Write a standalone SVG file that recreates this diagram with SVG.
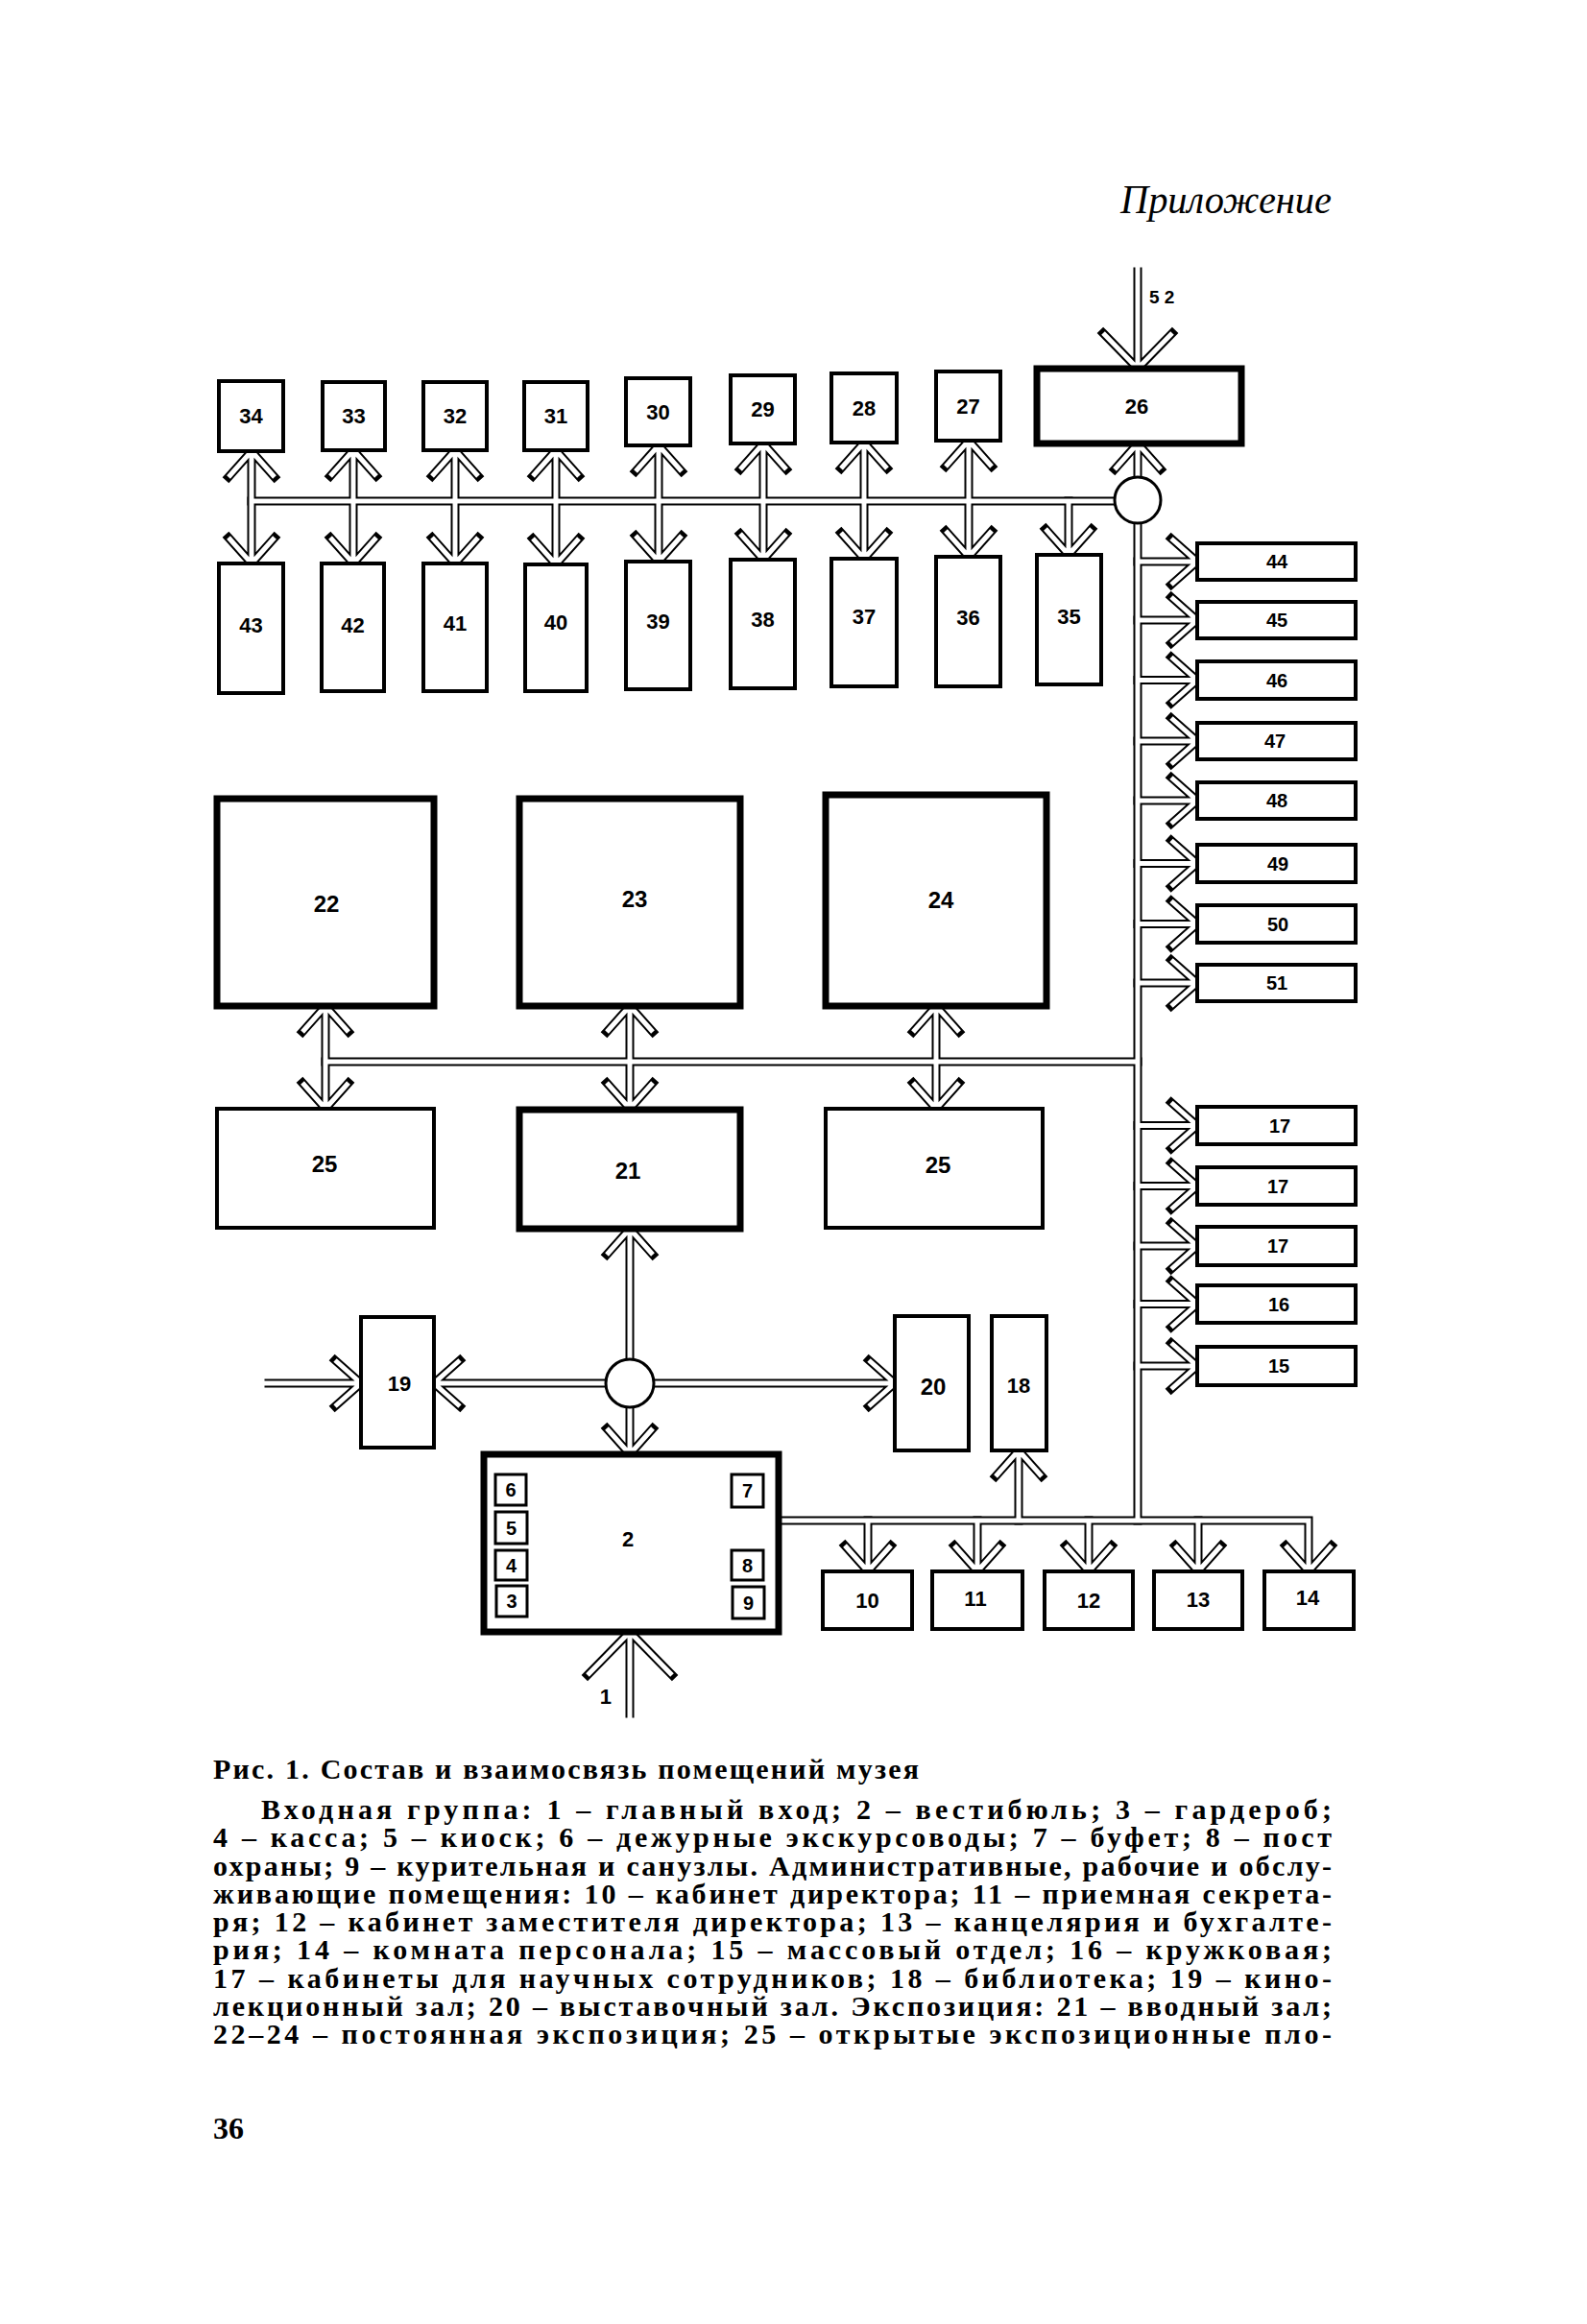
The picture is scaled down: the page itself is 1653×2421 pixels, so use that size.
<svg xmlns="http://www.w3.org/2000/svg" xmlns:xlink="http://www.w3.org/1999/xlink" width="1653" height="2421" viewBox="0 0 1653 2421">
<style>
.box{fill:#fff;stroke:#000;stroke-width:4}
.thick{stroke-width:7}
.small{stroke-width:3}
.hub{fill:#fff;stroke:#000;stroke-width:3}
.lbl{font-family:"Liberation Sans",Arial,sans-serif;font-weight:bold;font-size:22px;text-anchor:middle;dominant-baseline:central;fill:#000}
.big{font-size:24px}
.sm{font-size:20px}
.txt{font-family:"Liberation Serif","Times New Roman",serif;font-weight:bold;font-size:30px;fill:#000}
.head{font-family:"Liberation Serif","Times New Roman",serif;font-style:italic;font-size:43px;fill:#000}
.open{fill:none;stroke:#fff;stroke-width:5}
</style>
<defs>
<g id="net" fill="none">
<path d="M262 470V587M238 497L262 470L286 497M238 560L262 587L286 560"/>
<path d="M368 469V587M344 496L368 469L392 496M344 560L368 587L392 560"/>
<path d="M474 469V587M450 496L474 469L498 496M450 560L474 587L498 560"/>
<path d="M579 469V588M555 496L579 469L603 496M555 561L579 588L603 561"/>
<path d="M686 464V585M662 491L686 464L710 491M662 558L686 585L710 558"/>
<path d="M795 462V583M771 489L795 462L819 489M771 556L795 583L819 556"/>
<path d="M900 461V582M876 488L900 461L924 488M876 555L900 582L924 555"/>
<path d="M1009 459V580M985 486L1009 459L1033 486M985 553L1009 580L1033 553"/>
<path d="M1113 522V578M1089 551L1113 578L1137 551"/>
<path d="M262 522H1163"/>
<path d="M1185 497V462M1161 489L1185 462L1209 489"/>
<path d="M1185 283V384M1149 347L1185 384L1221 347"/>
<path d="M1185 541V1584"/>
<path d="M1185 585H1247M1220 561L1247 585L1220 609"/>
<path d="M1185 646H1247M1220 622L1247 646L1220 670"/>
<path d="M1185 708.5H1247M1220 684.5L1247 708.5L1220 732.5"/>
<path d="M1185 772H1247M1220 748L1247 772L1220 796"/>
<path d="M1185 834H1247M1220 810L1247 834L1220 858"/>
<path d="M1185 899.5H1247M1220 875.5L1247 899.5L1220 923.5"/>
<path d="M1185 962.5H1247M1220 938.5L1247 962.5L1220 986.5"/>
<path d="M1185 1024H1247M1220 1000L1247 1024L1220 1048"/>
<path d="M1185 1172.5H1247M1220 1148.5L1247 1172.5L1220 1196.5"/>
<path d="M1185 1235.5H1247M1220 1211.5L1247 1235.5L1220 1259.5"/>
<path d="M1185 1298H1247M1220 1274L1247 1298L1220 1322"/>
<path d="M1185 1358.5H1247M1220 1334.5L1247 1358.5L1220 1382.5"/>
<path d="M1185 1423H1247M1220 1399L1247 1423L1220 1447"/>
<path d="M339 1106H1185"/>
<path d="M339 1048V1155M315 1075L339 1048L363 1075M315 1128L339 1155L363 1128"/>
<path d="M656 1048V1155M632 1075L656 1048L680 1075M632 1128L656 1155L680 1128"/>
<path d="M975 1048V1155M951 1075L975 1048L999 1075M951 1128L975 1155L999 1128"/>
<path d="M656 1416V1280M632 1307L656 1280L680 1307"/>
<path d="M631 1441H452M479 1417L452 1441L479 1465"/>
<path d="M681 1441H932M905 1417L932 1441L905 1465"/>
<path d="M656 1466V1515M632 1488L656 1515L680 1488"/>
<path d="M280 1441H376M349 1417L376 1441L349 1465"/>
<path d="M656 1785V1700M612 1745L656 1700L700 1745"/>
<path d="M811 1584H1363V1637M1339 1610L1363 1637L1387 1610"/>
<path d="M904 1584V1637M880 1610L904 1637L928 1610"/>
<path d="M1018 1584V1637M994 1610L1018 1637L1042 1610"/>
<path d="M1134 1584V1637M1110 1610L1134 1637L1158 1610"/>
<path d="M1248 1584V1637M1224 1610L1248 1637L1272 1610"/>
<path d="M1061 1584V1511M1037 1538L1061 1511L1085 1538"/>
</g>
</defs>
<rect width="1653" height="2421" fill="#fff"/>
<g id="connectors">
<use xlink:href="#net" href="#net" stroke="#000" stroke-width="9" stroke-linecap="square" stroke-linejoin="miter"/>
<use xlink:href="#net" href="#net" stroke="#fff" stroke-width="5" stroke-linecap="butt" stroke-linejoin="miter"/>
<path class="open" d="M1185 283V277M656 1785V1791M280 1441H274"/>
<text x="1197" y="316" class="lbl" style="font-size:19px;text-anchor:start;dominant-baseline:auto">5 2</text>
<text x="637" y="1775" class="lbl" style="text-anchor:end;dominant-baseline:auto">1</text>
</g>
<g id="hub-top"><circle class="hub" cx="1185" cy="521" r="24"/></g>
<g id="hub-bottom"><circle class="hub" cx="656" cy="1441" r="25"/></g>
<g id="n34"><rect class="box" x="228" y="397" width="67" height="73"/><text class="lbl" x="261.5" y="433.5">34</text></g>
<g id="n33"><rect class="box" x="336" y="398" width="65" height="71"/><text class="lbl" x="368.5" y="433.5">33</text></g>
<g id="n32"><rect class="box" x="441" y="398" width="66" height="71"/><text class="lbl" x="474" y="433.5">32</text></g>
<g id="n31"><rect class="box" x="546" y="398" width="66" height="71"/><text class="lbl" x="579" y="433.5">31</text></g>
<g id="n30"><rect class="box" x="652" y="394" width="67" height="70"/><text class="lbl" x="685.5" y="429">30</text></g>
<g id="n29"><rect class="box" x="761" y="391" width="67" height="71"/><text class="lbl" x="794.5" y="426.5">29</text></g>
<g id="n28"><rect class="box" x="866" y="389" width="68" height="72"/><text class="lbl" x="900" y="425">28</text></g>
<g id="n27"><rect class="box" x="975" y="387" width="67" height="72"/><text class="lbl" x="1008.5" y="423">27</text></g>
<g id="n26"><rect class="box thick" x="1080" y="384" width="213" height="78"/><text class="lbl" x="1184" y="423">26</text></g>
<g id="n43"><rect class="box" x="228" y="587" width="67" height="135"/><text class="lbl" x="261.5" y="651">43</text></g>
<g id="n42"><rect class="box" x="335" y="587" width="65" height="133"/><text class="lbl" x="367.5" y="651">42</text></g>
<g id="n41"><rect class="box" x="441" y="587" width="66" height="133"/><text class="lbl" x="474" y="649">41</text></g>
<g id="n40"><rect class="box" x="547" y="588" width="64" height="132"/><text class="lbl" x="579" y="648">40</text></g>
<g id="n39"><rect class="box" x="652" y="585" width="67" height="133"/><text class="lbl" x="685.5" y="647">39</text></g>
<g id="n38"><rect class="box" x="761" y="583" width="67" height="134"/><text class="lbl" x="794.5" y="645">38</text></g>
<g id="n37"><rect class="box" x="866" y="582" width="68" height="133"/><text class="lbl" x="900" y="642">37</text></g>
<g id="n36"><rect class="box" x="975" y="580" width="67" height="135"/><text class="lbl" x="1008.5" y="643">36</text></g>
<g id="n35"><rect class="box" x="1080" y="578" width="67" height="135"/><text class="lbl" x="1113.5" y="642">35</text></g>
<g id="n44"><rect class="box" x="1247" y="566" width="165" height="38"/><text class="lbl sm" x="1330" y="585">44</text></g>
<g id="n45"><rect class="box" x="1247" y="627" width="165" height="38"/><text class="lbl sm" x="1330" y="646">45</text></g>
<g id="n46"><rect class="box" x="1247" y="689" width="165" height="39"/><text class="lbl sm" x="1330" y="708.5">46</text></g>
<g id="n47"><rect class="box" x="1247" y="753" width="165" height="38"/><text class="lbl sm" x="1328" y="772">47</text></g>
<g id="n48"><rect class="box" x="1247" y="815" width="165" height="38"/><text class="lbl sm" x="1330" y="834">48</text></g>
<g id="n49"><rect class="box" x="1247" y="880" width="165" height="39"/><text class="lbl sm" x="1331" y="899.5">49</text></g>
<g id="n50"><rect class="box" x="1247" y="943" width="165" height="39"/><text class="lbl sm" x="1331" y="962.5">50</text></g>
<g id="n51"><rect class="box" x="1247" y="1005" width="165" height="38"/><text class="lbl sm" x="1330" y="1024">51</text></g>
<g id="n22"><rect class="box thick" x="226" y="832" width="226" height="216"/><text class="lbl big" x="340" y="941">22</text></g>
<g id="n23"><rect class="box thick" x="541" y="832" width="230" height="216"/><text class="lbl big" x="661" y="936">23</text></g>
<g id="n24"><rect class="box thick" x="860" y="828" width="230" height="220"/><text class="lbl big" x="980" y="937">24</text></g>
<g id="n25a"><rect class="box" x="226" y="1155" width="226" height="124"/><text class="lbl big" x="338" y="1212">25</text></g>
<g id="n21"><rect class="box thick" x="541" y="1156" width="230" height="124"/><text class="lbl big" x="654" y="1219">21</text></g>
<g id="n25b"><rect class="box" x="860" y="1155" width="226" height="124"/><text class="lbl big" x="977" y="1213">25</text></g>
<g id="n17a"><rect class="box" x="1247" y="1153" width="165" height="39"/><text class="lbl sm" x="1333" y="1172.5">17</text></g>
<g id="n17b"><rect class="box" x="1247" y="1216" width="165" height="39"/><text class="lbl sm" x="1331" y="1235.5">17</text></g>
<g id="n17c"><rect class="box" x="1247" y="1278" width="165" height="40"/><text class="lbl sm" x="1331" y="1298">17</text></g>
<g id="n16"><rect class="box" x="1247" y="1339" width="165" height="39"/><text class="lbl sm" x="1332" y="1358.5">16</text></g>
<g id="n15"><rect class="box" x="1247" y="1403" width="165" height="40"/><text class="lbl sm" x="1332" y="1423">15</text></g>
<g id="n19"><rect class="box" x="376" y="1372" width="76" height="136"/><text class="lbl" x="416" y="1441">19</text></g>
<g id="n20"><rect class="box" x="932" y="1371" width="77" height="140"/><text class="lbl big" x="972" y="1444">20</text></g>
<g id="n18"><rect class="box" x="1033" y="1371" width="57" height="140"/><text class="lbl" x="1061" y="1443">18</text></g>
<g id="n2"><rect class="box thick" x="504" y="1515" width="307" height="185"/><text class="lbl" x="654" y="1603">2</text></g>
<g id="n6"><rect class="box small" x="516" y="1536" width="32" height="32"/><text class="lbl sm" x="532" y="1552">6</text></g>
<g id="n5"><rect class="box small" x="516" y="1575" width="33" height="33"/><text class="lbl sm" x="532.5" y="1591.5">5</text></g>
<g id="n4"><rect class="box small" x="516" y="1615" width="33" height="31"/><text class="lbl sm" x="532.5" y="1630.5">4</text></g>
<g id="n3"><rect class="box small" x="517" y="1652" width="32" height="32"/><text class="lbl sm" x="533" y="1668">3</text></g>
<g id="n7"><rect class="box small" x="762" y="1536" width="33" height="34"/><text class="lbl sm" x="778.5" y="1553">7</text></g>
<g id="n8"><rect class="box small" x="762" y="1615" width="33" height="31"/><text class="lbl sm" x="778.5" y="1630.5">8</text></g>
<g id="n9"><rect class="box small" x="763" y="1653" width="33" height="33"/><text class="lbl sm" x="779.5" y="1669.5">9</text></g>
<g id="n10"><rect class="box" x="857" y="1637" width="93" height="60"/><text class="lbl" x="903.5" y="1667">10</text></g>
<g id="n11"><rect class="box" x="971" y="1637" width="94" height="60"/><text class="lbl" x="1016" y="1665">11</text></g>
<g id="n12"><rect class="box" x="1088" y="1637" width="92" height="60"/><text class="lbl" x="1134" y="1667">12</text></g>
<g id="n13"><rect class="box" x="1202" y="1637" width="92" height="60"/><text class="lbl" x="1248" y="1666">13</text></g>
<g id="n14"><rect class="box" x="1317" y="1637" width="93" height="60"/><text class="lbl" x="1362" y="1664">14</text></g>
<g id="page-text">
<text class="head" x="1167" y="222" textLength="220" lengthAdjust="spacingAndGlyphs">Приложение</text>
<text class="txt" x="222" y="1853" textLength="735" lengthAdjust="spacing">Рис. 1. Состав и взаимосвязь помещений музея</text>
<text class="txt" x="272" y="1895" textLength="1115" lengthAdjust="spacing">Входная группа: 1 – главный вход; 2 – вестибюль; 3 – гардероб;</text>
<text class="txt" x="222" y="1924" textLength="1165" lengthAdjust="spacing">4 – касса; 5 – киоск; 6 – дежурные экскурсоводы; 7 – буфет; 8 – пост</text>
<text class="txt" x="222" y="1954" textLength="1165" lengthAdjust="spacing">охраны; 9 – курительная и санузлы. Административные, рабочие и обслу-</text>
<text class="txt" x="222" y="1983" textLength="1165" lengthAdjust="spacing">живающие помещения: 10 – кабинет директора; 11 – приемная секрета-</text>
<text class="txt" x="222" y="2012" textLength="1165" lengthAdjust="spacing">ря; 12 – кабинет заместителя директора; 13 – канцелярия и бухгалте-</text>
<text class="txt" x="222" y="2041" textLength="1165" lengthAdjust="spacing">рия; 14 – комната персонала; 15 – массовый отдел; 16 – кружковая;</text>
<text class="txt" x="222" y="2071" textLength="1165" lengthAdjust="spacing">17 – кабинеты для научных сотрудников; 18 – библиотека; 19 – кино-</text>
<text class="txt" x="222" y="2100" textLength="1165" lengthAdjust="spacing">лекционный зал; 20 – выставочный зал. Экспозиция: 21 – вводный зал;</text>
<text class="txt" x="222" y="2129" textLength="1165" lengthAdjust="spacing">22–24 – постоянная экспозиция; 25 – открытые экспозиционные пло-</text>
<text class="txt" x="222" y="2228" style="font-size:32px">36</text>
</g>
</svg>
